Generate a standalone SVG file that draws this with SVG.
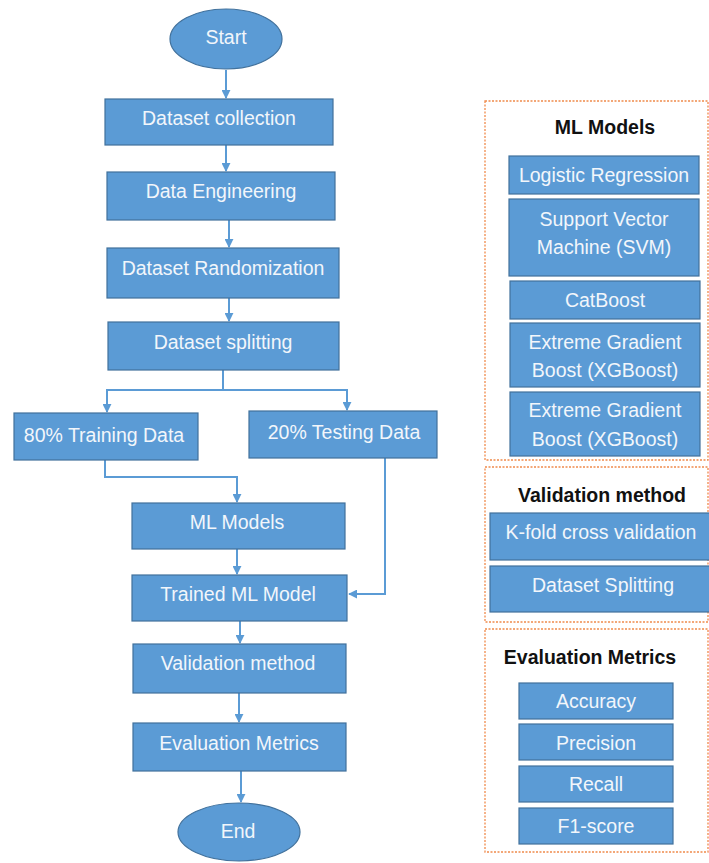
<svg xmlns="http://www.w3.org/2000/svg" width="709" height="863" viewBox="0 0 709 863">
  <style>
    .box { fill: #5b9bd5; stroke: #41719c; stroke-width: 1.2; }
    .lbl { font-family: "Liberation Sans", Arial, sans-serif; font-size: 19.5px; fill: #f2f6fb; text-anchor: middle; dominant-baseline: central; }
    .ttl { font-family: "Liberation Sans", Arial, sans-serif; font-size: 19.5px; font-weight: bold; fill: #111; text-anchor: middle; dominant-baseline: central; }
    .frame { fill: none; stroke: #f08a4b; stroke-width: 1.3; stroke-dasharray: 2 1.5; }
    .conn { fill: none; stroke: #5b9bd5; stroke-width: 2; }
  </style>
  <defs>
    <marker id="arr" viewBox="0 0 10 10" refX="9" refY="5" markerWidth="4.5" markerHeight="4.5" orient="auto">
      <path d="M0,0 L10,5 L0,10 z" fill="#5b9bd5"/>
    </marker>
  </defs>
  <rect width="709" height="863" fill="#ffffff"/>

  <!-- main flow connectors -->
  <g id="connectors">
    <line class="conn" x1="226" y1="70" x2="226" y2="98" marker-end="url(#arr)"/>
    <line class="conn" x1="226" y1="145" x2="226" y2="171" marker-end="url(#arr)"/>
    <line class="conn" x1="229" y1="220" x2="229" y2="247" marker-end="url(#arr)"/>
    <line class="conn" x1="229" y1="298" x2="229" y2="321" marker-end="url(#arr)"/>
    <polyline class="conn" points="223,370 223,390 107,390 107,412" marker-end="url(#arr)"/>
    <polyline class="conn" points="223,390 347,390 347,410" marker-end="url(#arr)"/>
    <polyline class="conn" points="105,460 105,477 237,477 237,502" marker-end="url(#arr)"/>
    <polyline class="conn" points="385,458 385,594 349,594" marker-end="url(#arr)"/>
    <line class="conn" x1="237" y1="549" x2="237" y2="574" marker-end="url(#arr)"/>
    <line class="conn" x1="240" y1="621" x2="240" y2="643" marker-end="url(#arr)"/>
    <line class="conn" x1="239" y1="693" x2="239" y2="722" marker-end="url(#arr)"/>
    <line class="conn" x1="241" y1="771" x2="241" y2="802" marker-end="url(#arr)"/>
  </g>

  <!-- main flow nodes -->
  <g id="start"><ellipse class="box" cx="226" cy="39" rx="56" ry="30"/><text class="lbl" x="226" y="37">Start</text></g>
  <g id="collection"><rect class="box" x="105" y="99" width="228" height="46"/><text class="lbl" x="219" y="118">Dataset collection</text></g>
  <g id="engineering"><rect class="box" x="107" y="172" width="228" height="48"/><text class="lbl" x="221" y="191">Data Engineering</text></g>
  <g id="randomization"><rect class="box" x="107" y="248" width="232" height="50"/><text class="lbl" x="223" y="268">Dataset Randomization</text></g>
  <g id="splitting"><rect class="box" x="108" y="322" width="231" height="48"/><text class="lbl" x="223" y="342">Dataset splitting</text></g>
  <g id="training"><rect class="box" x="14" y="413" width="184" height="47"/><text class="lbl" x="104" y="435">80% Training Data</text></g>
  <g id="testing"><rect class="box" x="249" y="411" width="188" height="47"/><text class="lbl" x="344" y="432">20% Testing Data</text></g>
  <g id="models"><rect class="box" x="132" y="503" width="213" height="46"/><text class="lbl" x="237" y="522">ML Models</text></g>
  <g id="trained"><rect class="box" x="132" y="575" width="215" height="46"/><text class="lbl" x="238" y="594">Trained ML Model</text></g>
  <g id="validation"><rect class="box" x="133" y="644" width="213" height="49"/><text class="lbl" x="238" y="663">Validation method</text></g>
  <g id="evaluation"><rect class="box" x="133" y="723" width="213" height="48"/><text class="lbl" x="239" y="743">Evaluation Metrics</text></g>
  <g id="end"><ellipse class="box" cx="239" cy="832" rx="61" ry="29"/><text class="lbl" x="238" y="831">End</text></g>

  <!-- ML models panel -->
  <g id="panel-models">
    <rect class="frame" x="485" y="101" width="223" height="359"/>
    <text class="ttl" x="605" y="127">ML Models</text>
    <rect class="box" x="509" y="156" width="190" height="38"/><text class="lbl" x="604" y="175">Logistic Regression</text>
    <rect class="box" x="509" y="199" width="190" height="77"/><text class="lbl" x="604" y="219">Support Vector</text><text class="lbl" x="604" y="247">Machine (SVM)</text>
    <rect class="box" x="510" y="281" width="190" height="38"/><text class="lbl" x="605" y="300">CatBoost</text>
    <rect class="box" x="510" y="323" width="190" height="64"/><text class="lbl" x="605" y="342">Extreme Gradient</text><text class="lbl" x="605" y="370">Boost (XGBoost)</text>
    <rect class="box" x="510" y="392" width="190" height="64"/><text class="lbl" x="605" y="410">Extreme Gradient</text><text class="lbl" x="605" y="439">Boost (XGBoost)</text>
  </g>

  <!-- validation panel -->
  <g id="panel-validation">
    <rect class="frame" x="485" y="467" width="223" height="155"/>
    <text class="ttl" x="602" y="495">Validation method</text>
    <rect class="box" x="490" y="513" width="222" height="47"/><text class="lbl" x="601" y="532">K-fold cross validation</text>
    <rect class="box" x="490" y="566" width="222" height="46"/><text class="lbl" x="603" y="585">Dataset Splitting</text>
  </g>

  <!-- evaluation panel -->
  <g id="panel-evaluation">
    <rect class="frame" x="485" y="629" width="223" height="223"/>
    <text class="ttl" x="590" y="657">Evaluation Metrics</text>
    <rect class="box" x="519" y="683" width="154" height="36"/><text class="lbl" x="596" y="701">Accuracy</text>
    <rect class="box" x="519" y="724" width="154" height="36"/><text class="lbl" x="596" y="743">Precision</text>
    <rect class="box" x="519" y="766" width="154" height="36"/><text class="lbl" x="596" y="784">Recall</text>
    <rect class="box" x="519" y="808" width="154" height="36"/><text class="lbl" x="596" y="826">F1-score</text>
  </g>
</svg>
